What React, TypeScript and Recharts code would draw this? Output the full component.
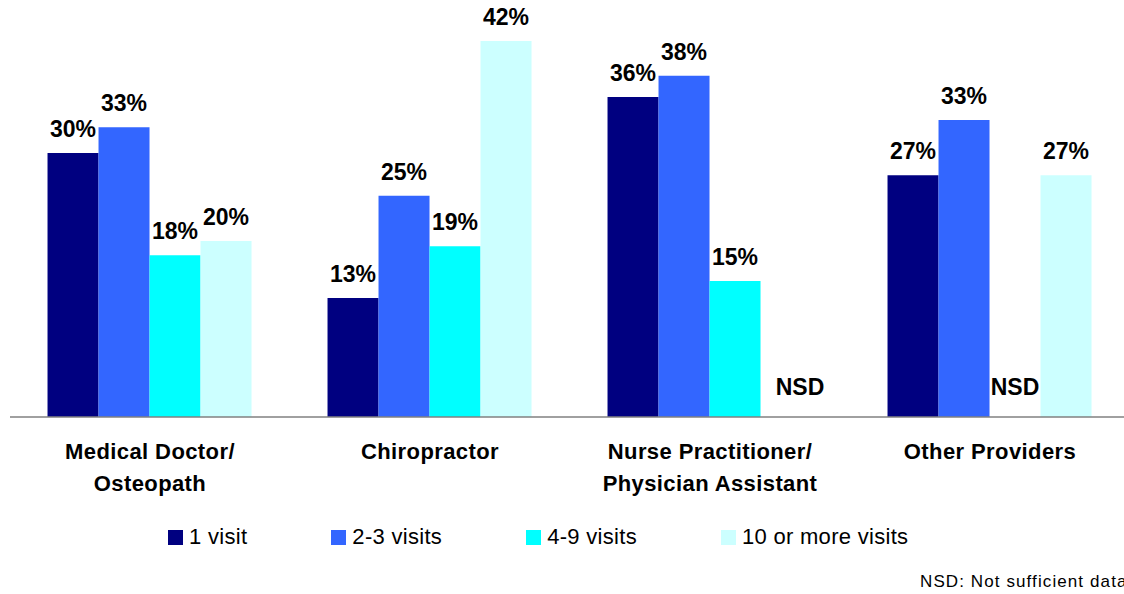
import React from 'react';
import { BarChart, Bar, XAxis, YAxis, Legend, LabelList } from 'recharts';

const NAVY = '#000080';
const BLUE = '#3366FF';
const CYAN = '#00FFFF';
const PALE = '#CCFFFF';
const AXIS = '#808080';
const FONT = 'Arial, "Liberation Sans", Helvetica, sans-serif';

const providers = [
  'Medical Doctor/\nOsteopath',
  'Chiropractor',
  'Nurse Practitioner/\nPhysician Assistant',
  'Other Providers',
];
// null = NSD (not sufficient data)
const oneVisit = [29.7, 13.4, 36.0, 27.2];
const twoThree = [32.6, 24.9, 38.4, 33.4];
const fourNine = [18.2, 19.2, 15.3, null];
const tenPlus = [19.8, 42.3, null, 27.2];

const seriesNames = ['1 visit', '2-3 visits', '4-9 visits', '10 or more visits'];
const seriesColors = [NAVY, BLUE, CYAN, PALE];
const seriesKeys = ['v1', 'v23', 'v49', 'v10'];
const seriesValues = [oneVisit, twoThree, fourNine, tenPlus];

const data = providers.map((p, i) => ({
  provider: p,
  v1: oneVisit[i],
  v23: twoThree[i],
  v49: fourNine[i],
  v10: tenPlus[i],
}));

const BASE_Y = 417;
// NSD bars get a vanishingly small height so their slot (and label) stays in place
const EMPTY = 0.001;

const renderLabel = (props: any, values: (number | null)[]) => {
  const { x, y, width, index } = props;
  const cx = Number(x) + Number(width) / 2;
  const v = values[index];
  if (v == null) {
    const shift = index === 2 ? 14 : 0;
    return (
      <text key={`nsd-${index}`} x={cx + shift} y={BASE_Y - 22} textAnchor="middle" fontFamily={FONT} fontSize={23} fontWeight="bold" fill="#000">
        NSD
      </text>
    );
  }
  return (
    <text key={`lbl-${index}`} x={cx} y={Number(y) - 16} textAnchor="middle" fontFamily={FONT} fontSize={23} fontWeight="bold" fill="#000">
      {Math.round(v)}%
    </text>
  );
};

const ProviderTick = (props: any) => {
  const { x, y, payload } = props;
  const lines = String(payload.value).split('\n');
  return (
    <text x={x} y={y} textAnchor="middle" fontFamily={FONT} fontSize={22} fontWeight="bold" fill="#000" letterSpacing={0.4}>
      {lines.map((l, i) => (
        <tspan key={i} x={x} dy={i === 0 ? 34 : 32}>
          {l}
        </tspan>
      ))}
    </text>
  );
};

const VisitLegend = () => (
  <div style={{ display: 'flex', alignItems: 'center', fontFamily: FONT, fontSize: 22, color: '#000', paddingLeft: 168 }}>
    {seriesNames.map((n, i) => (
      <div key={n} style={{ display: 'flex', alignItems: 'center', marginRight: 84 }}>
        <span style={{ width: 15, height: 15, background: seriesColors[i], display: 'inline-block', marginRight: 6 }} />
        <span style={{ letterSpacing: 0.3 }}>{n}</span>
      </div>
    ))}
  </div>
);

export default function App() {
  return (
    <div style={{ position: 'absolute', left: 0, top: 0, width: 1124, height: 594, overflow: 'hidden', background: '#fff' }}>
      <BarChart
        width={1140}
        height={594}
        data={data}
        margin={{ top: 17, right: 10, left: 10, bottom: 0 }}
        barCategoryGap="13.4%"
        barGap={0}
      >
        <XAxis
          dataKey="provider"
          axisLine={{ stroke: AXIS, strokeWidth: 1.5 }}
          tickLine={false}
          tick={<ProviderTick />}
          interval={0}
          height={137}
        />
        <YAxis hide domain={[0, 45]} />
        <Legend
          verticalAlign="bottom"
          height={40}
          content={<VisitLegend />}
          wrapperStyle={{ top: 524, left: 0, bottom: 'auto', width: 1124 }}
        />
        {seriesKeys.map((k, i) => (
          <Bar
            key={k}
            dataKey={(d: any) => d[k] ?? EMPTY}
            name={seriesNames[i]}
            fill={seriesColors[i]}
            isAnimationActive={false}
          >
            <LabelList content={(p: any) => renderLabel(p, seriesValues[i])} />
          </Bar>
        ))}
      </BarChart>
      <div
        style={{
          position: 'absolute',
          left: 920,
          top: 572,
          fontFamily: FONT,
          fontSize: 17,
          letterSpacing: 1.1,
          whiteSpace: 'nowrap',
          color: '#000',
        }}
      >
        NSD: Not sufficient data
      </div>
    </div>
  );
}
